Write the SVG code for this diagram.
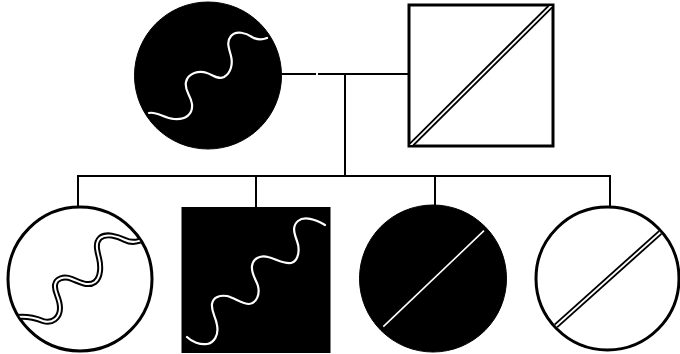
<svg xmlns="http://www.w3.org/2000/svg" width="680" height="354" viewBox="0 0 680 354">
  <style>
    .ln { fill: none; stroke: #000; stroke-width: 2; stroke-linecap: square; }
    .outline { fill: #fff; stroke: #000; stroke-width: 3; }
    .solid { fill: #000; stroke: #000; stroke-width: 1; }
    .wwave { fill: none; stroke: #fff; stroke-width: 2.2; stroke-linecap: round; stroke-linejoin: round; }
    .dblout { fill: none; stroke: #000; stroke-width: 5.5; }
    .dblin { fill: none; stroke: #fff; stroke-width: 1.8; }
    .bwout { fill: none; stroke: #000; stroke-width: 6; }
    .bwin { fill: none; stroke: #fff; stroke-width: 2; }
  </style>
  <defs>
    <path id="wave1" d="M12,318 C25,315 35,318 43,321 C52,324 60,318 60,308 C60,298 54,292 55,285 C56,278 64,276 72,279 C80,282 88,287 95,282 C101,277 101,266 99,258 C97,250 95,243 100,238 C106,233 117,236 125,240 C131,243 137,243 146,238"/>
    <clipPath id="clipChild1"><circle cx="80" cy="279" r="71"/></clipPath>
    <clipPath id="clipChild4"><circle cx="607.5" cy="278.5" r="70"/></clipPath>
    <clipPath id="clipFather"><rect x="410" y="6" width="142" height="139"/></clipPath>
  </defs>

  <g id="connectors">
    <path class="ln" d="M283,74 H315"/>
    <path class="ln" d="M319,74 H408"/>
    <path class="ln" d="M345,74 V176"/>
    <path class="ln" d="M78,206 V176 H610 V206"/>
    <path class="ln" d="M256,176 V207"/>
    <path class="ln" d="M435,176 V205"/>
  </g>

  <g id="mother">
    <circle class="solid" cx="208" cy="75.5" r="73.5"/>
    <path class="wwave" d="M149,113 C156,111 164,118 174,119 C186,120 193,114 192,104 C191,95 184,91 186,82 C188,73 199,70 207,73 C213,75 218,80 224,77 C231,73 233,64 231,56 C229,48 226,42 231,36 C236,30 246,33 252,37 C257,40 262,40 267,38"/>
  </g>

  <g id="father">
    <rect class="outline" x="409" y="5" width="144" height="141" stroke-width="2.6"/>
    <g clip-path="url(#clipFather)">
      <line class="dblout" x1="409" y1="147" x2="553" y2="4"/>
      <line class="dblin" x1="409" y1="147" x2="553" y2="4"/>
    </g>
  </g>

  <g id="child1">
    <circle class="outline" cx="80" cy="279" r="72"/>
    <g clip-path="url(#clipChild1)">
      <use href="#wave1" class="bwout"/>
      <use href="#wave1" class="bwin"/>
    </g>
  </g>

  <g id="child2">
    <rect class="solid" x="182" y="207.5" width="148" height="145"/>
    <path class="wwave" d="M187,337 C192,342 200,345 207,344 C214,343 219,335 217,325 C216,317 211,312 212,304 C213,297 220,295 227,296 C235,298 242,304 249,304 C257,303 260,294 258,286 C256,279 251,274 252,266 C253,258 261,255 268,257 C276,259 283,264 291,263 C299,261 300,249 297,241 C294,233 292,226 298,221 C304,216 315,219 325,225"/>
  </g>

  <g id="child3">
    <circle class="solid" cx="433" cy="278.5" r="73.5"/>
    <line x1="383.3" y1="326.7" x2="484" y2="230.7" stroke="#fff" stroke-width="1.6"/>
  </g>

  <g id="child4">
    <circle class="outline" cx="607.5" cy="278.5" r="71.5"/>
    <g clip-path="url(#clipChild4)">
      <line class="dblout" x1="548" y1="333" x2="668" y2="225.5"/>
      <line class="dblin" x1="548" y1="333" x2="668" y2="225.5"/>
    </g>
  </g>
</svg>
